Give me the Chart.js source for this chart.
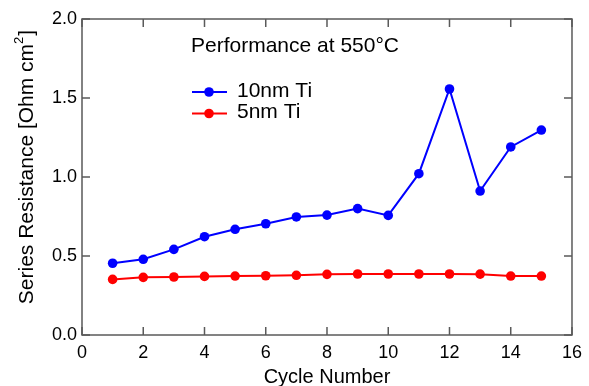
<!DOCTYPE html>
<html>
<head>
<meta charset="utf-8">
<script src="https://cdn.jsdelivr.net/npm/chart.js@4/dist/chart.umd.min.js"></script>
<style>
html,body{margin:0;padding:0;background:#fff;}
#wrap{width:589px;height:386px;}
</style>
</head>
<body>
<div id="wrap"><canvas id="c" width="589" height="386"></canvas></div>
<script>
const cycles = [1,2,3,4,5,6,7,8,9,10,11,12,13,14,15];
const ti10nm = [0.454,0.479,0.542,0.622,0.669,0.704,0.747,0.759,0.800,0.757,1.021,1.557,0.911,1.190,1.297];
const ti5nm  = [0.352,0.365,0.367,0.371,0.373,0.375,0.378,0.384,0.386,0.386,0.386,0.386,0.385,0.373,0.373];
const seriesNames = ["10nm Ti","5nm Ti"];
const xTicks = [0,2,4,6,8,10,12,14,16];
const yTicks = [0.0,0.5,1.0,1.5,2.0];
const titleText = "Performance at 550°C";
const xTitle = "Cycle Number";
const yTitleMain = "Series Resistance [Ohm cm";
const yTitleSup = "2";
const yTitleEnd = "]";

const FONT = "'Liberation Sans', Arial, Helvetica, sans-serif";
const AXIS = '#5a5a5a';

const framePlugin = {
  id: 'frame',
  afterDraw(chart) {
    const ctx = chart.ctx, a = chart.chartArea;
    const xs = chart.scales.x, ys = chart.scales.y;
    ctx.save();
    ctx.strokeStyle = AXIS;
    ctx.lineWidth = 1.5;
    ctx.strokeRect(a.left, a.top, a.right - a.left, a.bottom - a.top);
    const tl = 8;
    ctx.beginPath();
    xTicks.forEach(v => {
      const px = xs.getPixelForValue(v);
      ctx.moveTo(px, a.bottom); ctx.lineTo(px, a.bottom - tl);
      ctx.moveTo(px, a.top); ctx.lineTo(px, a.top + tl);
    });
    yTicks.forEach(v => {
      const py = ys.getPixelForValue(v);
      ctx.moveTo(a.left, py); ctx.lineTo(a.left + tl, py);
      ctx.moveTo(a.right, py); ctx.lineTo(a.right - tl, py);
    });
    ctx.stroke();

    // title inside plot
    ctx.fillStyle = '#000';
    ctx.font = '21px ' + FONT;
    ctx.textBaseline = 'alphabetic';
    ctx.textAlign = 'left';
    ctx.fillText(titleText, a.left + 109, a.top + 33);

    // legend
    chart.data.datasets.forEach((ds, i) => {
      const y = a.top + 73 + i * 21.5;
      const x0 = a.left + 110;
      ctx.strokeStyle = ds.borderColor;
      ctx.lineWidth = 2;
      ctx.beginPath(); ctx.moveTo(x0, y); ctx.lineTo(x0 + 35, y); ctx.stroke();
      ctx.fillStyle = ds.backgroundColor;
      ctx.beginPath(); ctx.arc(x0 + 17, y, 4.8, 0, Math.PI * 2); ctx.fill();
      ctx.fillStyle = '#000';
      ctx.font = '21px ' + FONT;
      ctx.textBaseline = 'middle';
      ctx.fillText(ds.label, x0 + 45, y - 1);
    });

    // x title
    ctx.font = '20px ' + FONT;
    ctx.textAlign = 'center';
    ctx.textBaseline = 'alphabetic';
    ctx.fillText(xTitle, (a.left + a.right) / 2, 383);

    // y title with superscript
    ctx.save();
    const cx = 33, cy = 167;
    ctx.translate(cx, cy);
    ctx.rotate(-Math.PI / 2);
    ctx.font = '21px ' + FONT;
    const w1 = ctx.measureText(yTitleMain).width;
    ctx.font = '13px ' + FONT;
    const w2 = ctx.measureText(yTitleSup).width;
    ctx.font = '21px ' + FONT;
    const w3 = ctx.measureText(yTitleEnd).width;
    const total = w1 + w2 + w3 + 1;
    let x = -total / 2;
    ctx.textAlign = 'left';
    ctx.textBaseline = 'alphabetic';
    ctx.fillText(yTitleMain, x, 0); x += w1;
    ctx.font = '13px ' + FONT;
    ctx.fillText(yTitleSup, x, -10); x += w2 + 1;
    ctx.font = '21px ' + FONT;
    ctx.fillText(yTitleEnd, x, 0);
    ctx.restore();
    ctx.restore();
  }
};

const mk = (vals) => cycles.map((c, i) => ({x: c, y: vals[i]}));

new Chart(document.getElementById('c'), {
  type: 'line',
  data: {
    datasets: [
      {label: seriesNames[0], data: mk(ti10nm), borderColor: '#0000ff', backgroundColor: '#0000ff',
       borderWidth: 2, pointRadius: 4.8, pointHoverRadius: 4.8, pointBorderWidth: 0, tension: 0},
      {label: seriesNames[1], data: mk(ti5nm), borderColor: '#ff0000', backgroundColor: '#ff0000',
       borderWidth: 2, pointRadius: 4.8, pointHoverRadius: 4.8, pointBorderWidth: 0, tension: 0}
    ]
  },
  options: {
    responsive: false,
    devicePixelRatio: 1,
    animation: false,
    layout: {padding: {left: 0, right: 12, top: 19, bottom: 0}},
    plugins: {legend: {display: false}, tooltip: {enabled: false}, title: {display: false}},
    scales: {
      x: {
        type: 'linear', min: 0, max: 16,
        afterBuildTicks: s => { s.ticks = xTicks.map(v => ({value: v})); },
        afterFit: s => { s.height = 51; },
        grid: {display: false, drawTicks: false},
        border: {display: false},
        ticks: {color: '#000', font: {family: FONT, size: 18}, padding: 7, maxRotation: 0,
                callback: v => String(v)}
      },
      y: {
        type: 'linear', min: 0, max: 2,
        afterBuildTicks: s => { s.ticks = yTicks.map(v => ({value: v})); },
        afterFit: s => { s.width = 82; },
        grid: {display: false, drawTicks: false},
        border: {display: false},
        ticks: {color: '#000', font: {family: FONT, size: 18}, padding: 5,
                callback: v => Number(v).toFixed(1)}
      }
    }
  },
  plugins: [framePlugin]
});
</script>
</body>
</html>
